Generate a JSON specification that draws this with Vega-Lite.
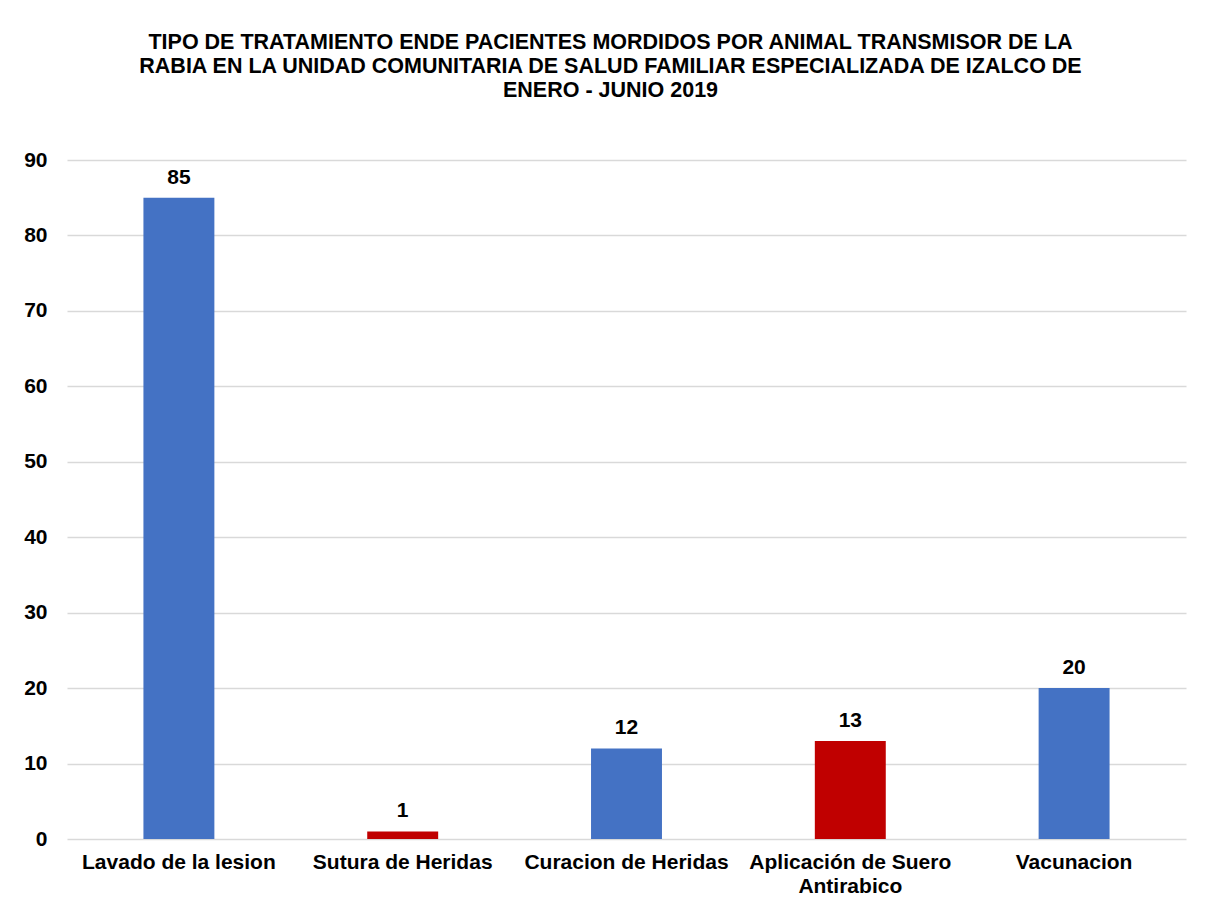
{
  "$schema": "https://vega.github.io/schema/vega-lite/v6.json",
  "autosize": "none",
  "width": 1119,
  "height": 679,
  "padding": {"left": 67, "top": 160, "right": 23, "bottom": 74},
  "background": "white",
  "config": {
    "font": "Liberation Sans",
    "view": {"stroke": null}
  },
  "title": {
    "text": ["TIPO DE TRATAMIENTO ENDE PACIENTES MORDIDOS POR ANIMAL TRANSMISOR DE LA", "RABIA EN LA UNIDAD COMUNITARIA DE SALUD FAMILIAR ESPECIALIZADA DE  IZALCO DE", "ENERO  - JUNIO 2019"],
    "anchor": "middle",
    "frame": "group",
    "dx": -16,
    "fontSize": 21.5,
    "fontWeight": "bold",
    "lineHeight": 24,
    "color": "#000000",
    "offset": 48
  },
  "data": {
    "values": [
      {"tratamiento": "Lavado de la lesion", "pacientes": 85, "grupo": "azul"},
      {"tratamiento": "Sutura de Heridas", "pacientes": 1, "grupo": "rojo"},
      {"tratamiento": "Curacion de Heridas", "pacientes": 12, "grupo": "azul"},
      {"tratamiento": "Aplicación de Suero Antirabico", "pacientes": 13, "grupo": "rojo"},
      {"tratamiento": "Vacunacion", "pacientes": 20, "grupo": "azul"}
    ]
  },
  "encoding": {
    "x": {
      "field": "tratamiento",
      "type": "nominal",
      "sort": null,
      "scale": {"paddingInner": 0.683, "paddingOuter": 0.3415},
      "axis": {
        "title": null,
        "labelAngle": 0,
        "labelFontSize": 21,
        "labelFontWeight": "bold",
        "labelColor": "#000000",
        "labelPadding": 12,
        "labelLineHeight": 24,
        "labelLimit": 0,
        "labelOverlap": false,
        "labelExpr": "datum.value == 'Aplicación de Suero Antirabico' ? ['Aplicación de Suero', 'Antirabico'] : datum.value",
        "domain": false,
        "ticks": false
      }
    },
    "y": {
      "field": "pacientes",
      "type": "quantitative",
      "scale": {"domain": [0, 90]},
      "axis": {
        "title": null,
        "values": [0, 10, 20, 30, 40, 50, 60, 70, 80, 90],
        "labelFontSize": 21,
        "labelFontWeight": "bold",
        "labelColor": "#000000",
        "labelPadding": 20,
        "domain": false,
        "ticks": false,
        "gridColor": "#d9d9d9",
        "gridWidth": 1.5
      }
    }
  },
  "layer": [
    {
      "mark": {"type": "bar"},
      "encoding": {
        "color": {
          "field": "grupo",
          "type": "nominal",
          "scale": {"domain": ["azul", "rojo"], "range": ["#4472C4", "#C00000"]},
          "legend": null
        }
      }
    },
    {
      "mark": {"type": "text", "baseline": "bottom", "dy": -10, "fontSize": 21, "fontWeight": "bold", "color": "#000000"},
      "encoding": {
        "text": {"field": "pacientes", "type": "quantitative"}
      }
    }
  ]
}
